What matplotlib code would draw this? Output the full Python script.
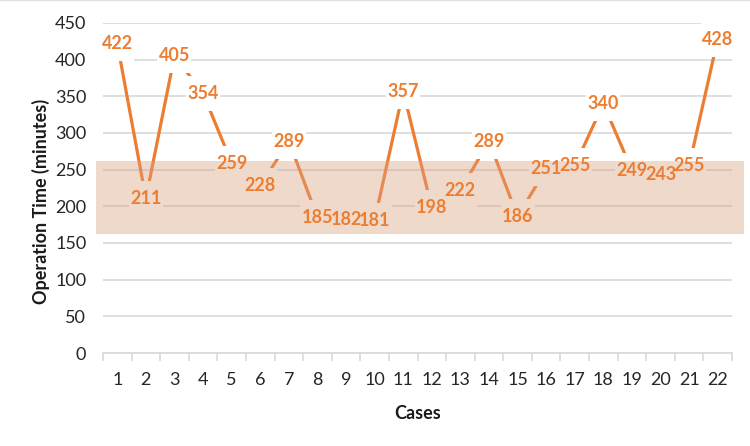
import matplotlib
matplotlib.use("Agg")
import matplotlib.pyplot as plt
from matplotlib.lines import Line2D
from matplotlib.patches import Rectangle
from matplotlib.transforms import ScaledTranslation
import numpy as np

cases = list(range(1, 23))
minutes = [422, 211, 405, 354, 259, 228, 289, 185, 182, 181, 357, 198,
           222, 289, 186, 251, 255, 340, 249, 243, 255, 428]
band_low, band_high = 162, 262

orange = "#ED7D31"
plt.rcParams['font.family'] = ['Lato', 'DejaVu Sans']

fig = plt.figure(figsize=(7.5, 4.46), dpi=100)
ax = fig.add_axes([103/750, 1-353/446, 629/750, 330/446])

ax.set_xlim(0.5, 22.5)
ax.set_ylim(0, 450)
ax.set_yticks(np.arange(0, 451, 50))
ax.yaxis.grid(True, color="#D9D9D9", lw=1.2, zorder=0.5)
ax.set_axisbelow(True)
for s in ["left", "right", "top"]:
    ax.spines[s].set_visible(False)
ax.spines["bottom"].set_color("#D9D9D9")
ax.spines["bottom"].set_linewidth(1.2)

ax.set_xticks(cases)
ax.set_xticklabels([str(c) for c in cases])
ax.set_xticks(np.arange(0.5, 23, 1), minor=True)
ax.tick_params(axis="x", which="major", length=0, pad=14, labelsize=13, labelcolor="#262626")
ax.tick_params(axis="x", which="minor", length=6, color="#D9D9D9", width=1.2)
ax.tick_params(axis="y", length=0, pad=12, labelsize=13, labelcolor="#262626")

ax.plot(cases, minutes, color=orange, lw=2.3, zorder=2, solid_capstyle="butt")

box_w, box_h = 0.34, 0.35  # inches
for x, v in zip(cases, minutes):
    tr = fig.dpi_scale_trans + ScaledTranslation(x, v, ax.transData)
    ax.add_patch(Rectangle((-box_w/2, -box_h/2), box_w, box_h, transform=tr,
                           facecolor="white", edgecolor="none", zorder=3, clip_on=False))
    ax.text(x, v, str(v), ha="center", va="center", fontsize=13, fontweight="bold",
            color=orange, zorder=5)

trans = ax.get_yaxis_transform()
band = Rectangle((-0.011, band_low), 1.03, band_high - band_low, transform=trans,
                 facecolor="#D9A07F", alpha=0.4, edgecolor="none", zorder=4, clip_on=False)
ax.add_patch(band)

ax.set_xlabel("Cases", fontsize=13, fontweight="bold", color="#1a1a1a", labelpad=12)
ax.set_ylabel("Operation Time (minutes)", fontsize=13, fontweight="bold", color="#1a1a1a")
ax.yaxis.set_label_coords(-0.084, 0.46)

fig.add_artist(Line2D([0, 1], [0.999, 0.999], transform=fig.transFigure, color="#E0E0E0", lw=1))

fig.savefig("out.png", dpi=100)
